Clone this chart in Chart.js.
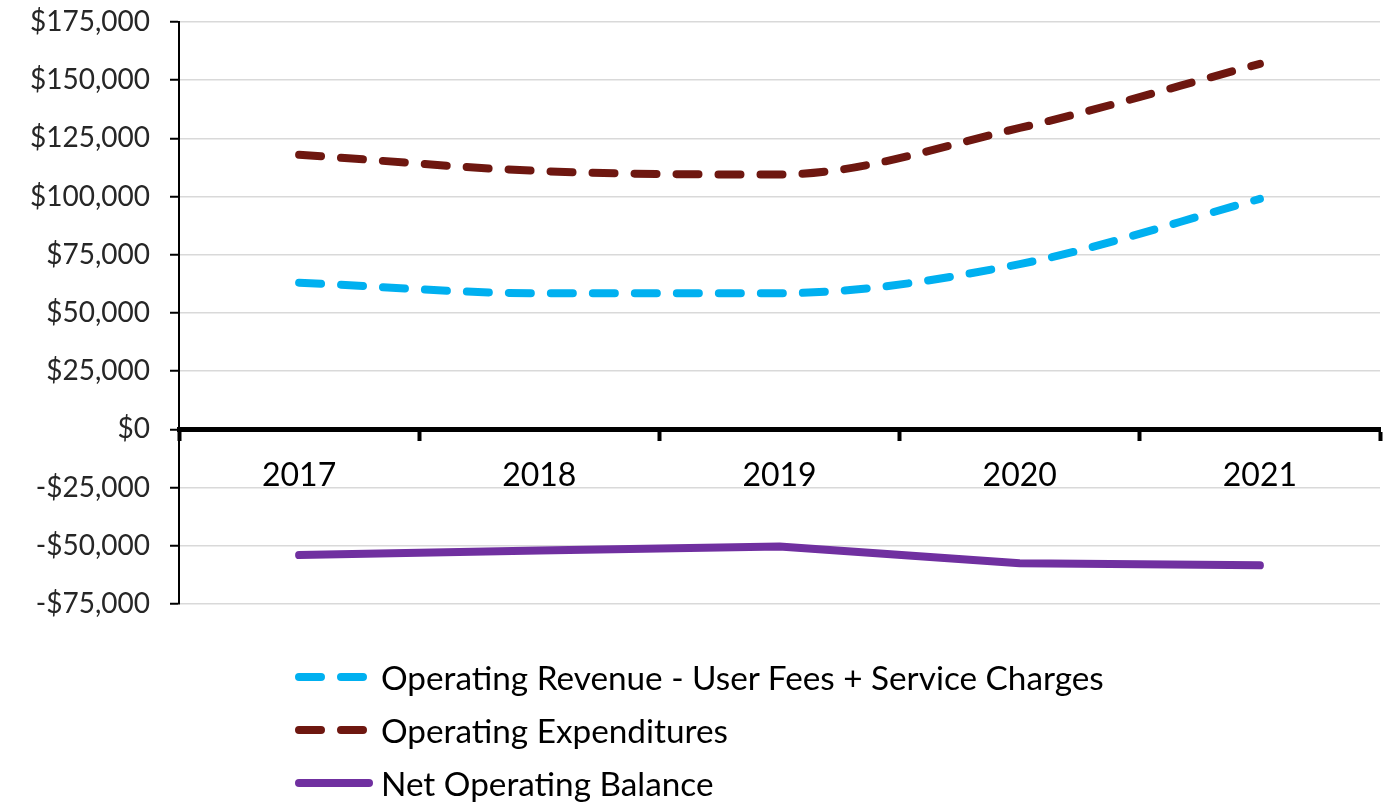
<!DOCTYPE html>
<html>
<head>
<meta charset="utf-8">
<script src="https://cdn.jsdelivr.net/npm/chart.js@4"></script>
<style>
  html, body { margin: 0; padding: 0; background: #fff; }
  #wrap { position: relative; width: 1398px; height: 804px; }
  #legend { position: absolute; left: 293px; top: 650px; font-family: Lato, "Noto Sans", sans-serif; font-size: 33.3px; color: #000; }
  #legend .row { height: 53px; display: flex; align-items: center; white-space: nowrap; }
  #legend svg { margin-right: 8px; }
</style>
</head>
<body>
<div id="wrap">
  <canvas id="line-chart" width="1398" height="804"></canvas>
  <div id="legend"></div>
</div>
<script>
var years = ['2017', '2018', '2019', '2020', '2021'];
var revenue = [63000, 58500, 58500, 71000, 99000];
var expenditures = [118000, 111000, 109500, 129500, 157000];
var netBalance = [-54000, -52000, -50300, -57500, -58400];
var yTicks = [-75000, -50000, -25000, 0, 25000, 50000, 75000, 100000, 125000, 150000, 175000];

function money(v)
{
  var s = '$' + Math.abs(v).toLocaleString('en-US');
  return v < 0 ? '-' + s : s;
}

function noPad(scale)
{
  scale.paddingTop = 0;
  scale.paddingBottom = 0;
  scale.paddingLeft = 0;
  scale.paddingRight = 0;
}

var series = [
  { label: 'Operating Revenue - User Fees + Service Charges', data: revenue, color: '#00B0F0', dash: [22, 20], smooth: true },
  { label: 'Operating Expenditures', data: expenditures, color: '#6E1710', dash: [22, 20], smooth: true },
  { label: 'Net Operating Balance', data: netBalance, color: '#7030A0', dash: [], smooth: false }
];

var chart = new Chart(document.getElementById('line-chart'), {
  type: 'line',
  data: {
    labels: years,
    datasets: series.map(function(s) {
      return {
        label: s.label,
        data: s.data,
        borderColor: s.color,
        backgroundColor: s.color,
        borderWidth: 8,
        borderDash: s.dash,
        borderCapStyle: 'round',
        borderJoinStyle: 'round',
        cubicInterpolationMode: s.smooth ? 'monotone' : 'default',
        tension: 0,
        pointRadius: 0,
        fill: false
      };
    })
  },
  options: {
    responsive: false,
    animation: false,
    layout: { padding: { top: 22, right: 18, bottom: 200, left: 0 } },
    plugins: { legend: { display: false }, tooltip: { enabled: false } },
    scales: {
      x: {
        position: { y: 0 },
        offset: true,
        afterFit: function(scale) { scale.height = 0; noPad(scale); },
        grid: { drawOnChartArea: false, drawTicks: true, tickLength: 9, tickWidth: 4, tickColor: '#000', offset: true },
        border: { display: true, width: 5, color: '#000' },
        ticks: { color: '#000', padding: 18, font: { family: 'Lato', size: 32 } }
      },
      y: {
        min: -75000,
        max: 175000,
        afterBuildTicks: function(scale) {
          scale.ticks = yTicks.map(function(v) { return { value: v }; });
        },
        afterFit: function(scale) { scale.width = 179; noPad(scale); },
        grid: { color: '#d9d9d9', lineWidth: 1.5, tickLength: 9, tickColor: '#000', tickWidth: 2 },
        border: { display: true, width: 2, color: '#000' },
        ticks: { color: '#262626', padding: 20, font: { family: 'Lato', size: 28 }, callback: function(v) { return money(v); } }
      }
    }
  }
});

// legend built from the same series
var legend = document.getElementById('legend');
series.forEach(function(s) {
  var row = document.createElement('div');
  row.className = 'row';
  var dashAttr = s.dash.length ? ' stroke-dasharray="' + s.dash.join(' ') + '"' : '';
  row.innerHTML = '<svg width="80" height="14"><line x1="6" y1="7" x2="76" y2="7" stroke="' + s.color +
    '" stroke-width="8" stroke-linecap="round"' + dashAttr + '/></svg><span>' + s.label + '</span>';
  legend.appendChild(row);
});
</script>
</body>
</html>
